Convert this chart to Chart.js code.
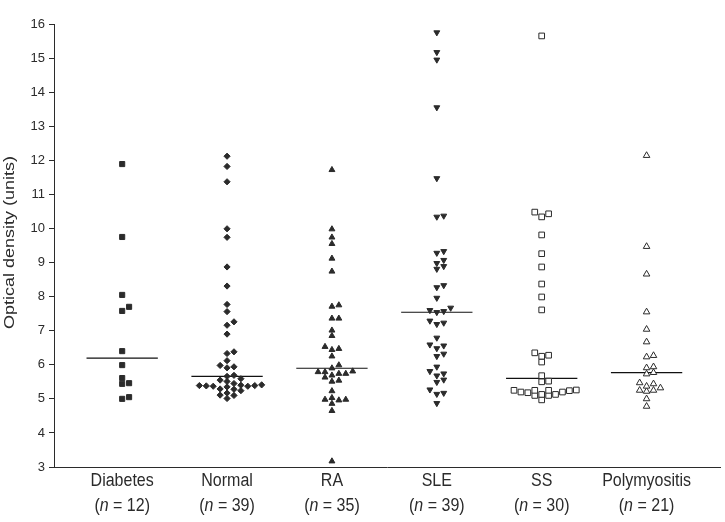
<!DOCTYPE html>
<html>
<head>
  <title>Optical density by group</title>
  <script src="https://cdn.jsdelivr.net/npm/chart.js"></script>
  <style>
    body { margin: 0; background: #fff; }
  </style>
</head>
<body>
  <canvas id="odChart" width="725" height="522"></canvas>

  <script>
    // values
    const categories = ['Diabetes', 'Normal', 'RA', 'SLE', 'SS', 'Polymyositis'];
    const diabetes = [11.89, 9.75, 8.05, 7.70, 7.58, 6.40, 5.99, 5.61, 5.46, 5.44, 5.05, 5.00];
    const normal = [12.12, 11.82, 11.37, 9.99, 9.74, 8.87, 8.31, 7.77, 7.56, 7.26, 7.16, 6.90, 6.38, 6.33,
      6.12, 5.98, 5.94, 5.91, 5.69, 5.66, 5.59, 5.55, 5.51, 5.45, 5.40, 5.38, 5.35, 5.39, 5.37, 5.37,
      5.39, 5.41, 5.28, 5.29, 5.24, 5.11, 5.10, 5.17, 5.01];
    const ra = [11.72, 9.98, 9.74, 9.55, 9.12, 8.74, 7.75, 7.71, 7.36, 7.36, 7.01, 6.85, 6.53, 6.47, 6.44,
      6.25, 5.99, 5.90, 5.81, 5.79, 5.79, 5.74, 5.74, 5.69, 5.63, 5.54, 5.51, 5.23, 5.03, 4.98, 4.98,
      4.96, 4.86, 4.65, 3.17];
    const sle = [15.75, 15.17, 14.95, 13.55, 11.47, 10.37, 10.34, 9.33, 9.28, 9.07, 8.98, 8.89, 8.81, 8.33,
      8.27, 7.96, 7.67, 7.60, 7.57, 7.54, 7.29, 7.23, 7.19, 6.79, 6.59, 6.56, 6.48, 6.32, 6.25, 5.94,
      5.81, 5.74, 5.68, 5.56, 5.49, 5.27, 5.17, 5.14, 4.87];
    const ss = [15.65, 10.48, 10.43, 10.34, 9.81, 9.26, 8.87, 8.37, 7.99, 7.61, 6.35, 6.28, 6.25, 6.08,
      5.68, 5.52, 5.50, 5.26, 5.25, 5.25, 5.25, 5.24, 5.20, 5.20, 5.18, 5.13, 5.13, 5.10, 5.10, 4.97];
    const polymyositis = [12.14, 9.47, 8.66, 7.55, 7.04, 6.67, 6.27, 6.23, 5.94, 5.91, 5.77, 5.73, 5.47,
      5.44, 5.37, 5.32, 5.25, 5.25, 5.22, 5.00, 4.78];
    const yTicks = [3, 4, 5, 6, 7, 8, 9, 10, 11, 12, 13, 14, 15, 16];
    const yTitle = 'Optical density (units)';

    const groups = [diabetes, normal, ra, sle, ss, polymyositis];

    const ink = '#2b2b2b';
    const fontFamily = "'Liberation Sans', Arial, sans-serif";
    const labelSize = 16;
    const stretch = 1.18; // the figure's lettering is a bit taller than it is wide

    // marker look per group
    const markers = [
      { pointStyle: 'rect', radius: 3.6, fill: ink, rotation: 0 },
      { pointStyle: 'rectRot', radius: 3.1, fill: ink, rotation: 0 },
      { pointStyle: 'triangle', radius: 3.4, fill: ink, rotation: 0 },
      { pointStyle: 'triangle', radius: 3.4, fill: ink, rotation: 180 },
      { pointStyle: 'rect', radius: 4, fill: '#fff', rotation: 0 },
      { pointStyle: 'triangle', radius: 3.8, fill: '#fff', rotation: 0 }
    ];

    // simple beeswarm: spread points that sit too close vertically into side slots
    const slotStep = 0.066;
    const minGap = 0.15;
    function swarm(values, center) {
      const placed = [];
      values.slice().sort((a, b) => a - b).forEach(v => {
        for (let n = 0; ; n++) {
          const slot = n === 0 ? 0 : (n % 2 ? (n + 1) / 2 : -n / 2);
          const clash = placed.some(p => p.slot === slot && Math.abs(p.v - v) < minGap);
          if (!clash) { placed.push({ slot, v }); break; }
        }
      });
      return placed.map(p => ({ x: center + p.slot * slotStep, y: p.v }));
    }

    function median(values) {
      const s = values.slice().sort((a, b) => a - b);
      const m = Math.floor(s.length / 2);
      return s.length % 2 ? s[m] : (s[m - 1] + s[m]) / 2;
    }

    const datasets = [];
    groups.forEach((vals, i) => {
      const mk = markers[i];
      datasets.push({
        type: 'scatter',
        label: categories[i],
        data: swarm(vals, i),
        pointStyle: mk.pointStyle,
        rotation: mk.rotation,
        pointRadius: mk.radius,
        backgroundColor: mk.fill,
        borderColor: ink,
        borderWidth: 1
      });
      const med = median(vals);
      datasets.push({
        type: 'line',
        label: categories[i] + ' median',
        data: [{ x: i - 0.34, y: med }, { x: i + 0.34, y: med }],
        borderColor: '#111',
        borderWidth: 1.1,
        pointRadius: 0,
        fill: false
      });
    });

    // group names with (n = ..) underneath, n in italics, plus the y title
    const labelsPlugin = {
      id: 'labelsPlugin',
      afterDraw(chart) {
        const { ctx, chartArea, scales } = chart;
        ctx.save();
        ctx.fillStyle = ink;
        ctx.textBaseline = 'middle';
        categories.forEach((name, i) => {
          const cx = scales.x.getPixelForValue(i);
          ctx.save();
          ctx.translate(cx, chartArea.bottom + 14);
          ctx.scale(1, stretch);
          ctx.font = labelSize + 'px ' + fontFamily;
          ctx.textAlign = 'center';
          ctx.fillText(name, 0, 0);
          ctx.restore();

          const parts = [['(', false], ['n', true], [' = ' + groups[i].length + ')', false]];
          let total = 0;
          parts.forEach(p => {
            ctx.font = (p[1] ? 'italic ' : '') + labelSize + 'px ' + fontFamily;
            total += ctx.measureText(p[0]).width;
          });
          ctx.save();
          ctx.translate(cx - total / 2, chartArea.bottom + 39);
          ctx.scale(1, stretch);
          ctx.textAlign = 'left';
          let px = 0;
          parts.forEach(p => {
            ctx.font = (p[1] ? 'italic ' : '') + labelSize + 'px ' + fontFamily;
            ctx.fillText(p[0], px, 0);
            px += ctx.measureText(p[0]).width;
          });
          ctx.restore();
        });

        ctx.save();
        ctx.translate(10, (chartArea.top + chartArea.bottom) / 2 - 3);
        ctx.rotate(-Math.PI / 2);
        ctx.scale(1.2, 1);
        ctx.font = '15px ' + fontFamily;
        ctx.textAlign = 'center';
        ctx.fillText(yTitle, 0, 0);
        ctx.restore();
        ctx.restore();
      }
    };

    const ctx = document.getElementById('odChart').getContext('2d');
    new Chart(ctx, {
      data: { datasets },
      plugins: [labelsPlugin],
      options: {
        responsive: false,
        animation: false,
        layout: { padding: { top: 24, right: 5, left: 0, bottom: 0 } },
        plugins: {
          legend: { display: false },
          tooltip: { enabled: false }
        },
        scales: {
          x: {
            type: 'linear',
            min: -0.65,
            max: 5.7,
            grid: { display: false },
            border: { display: true, color: ink, width: 1 },
            ticks: { display: false },
            afterFit: s => { s.height = 55; }
          },
          y: {
            type: 'linear',
            min: 3,
            max: 16,
            afterBuildTicks: s => { s.ticks = yTicks.map(v => ({ value: v })); },
            grid: { drawOnChartArea: false, drawTicks: true, tickLength: 5, color: ink },
            border: { display: true, color: ink, width: 1 },
            ticks: { color: ink, padding: 4, font: { family: fontFamily, size: 13 } },
            afterFit: s => { s.width = 54; }
          }
        }
      }
    });
  </script>
</body>
</html>
